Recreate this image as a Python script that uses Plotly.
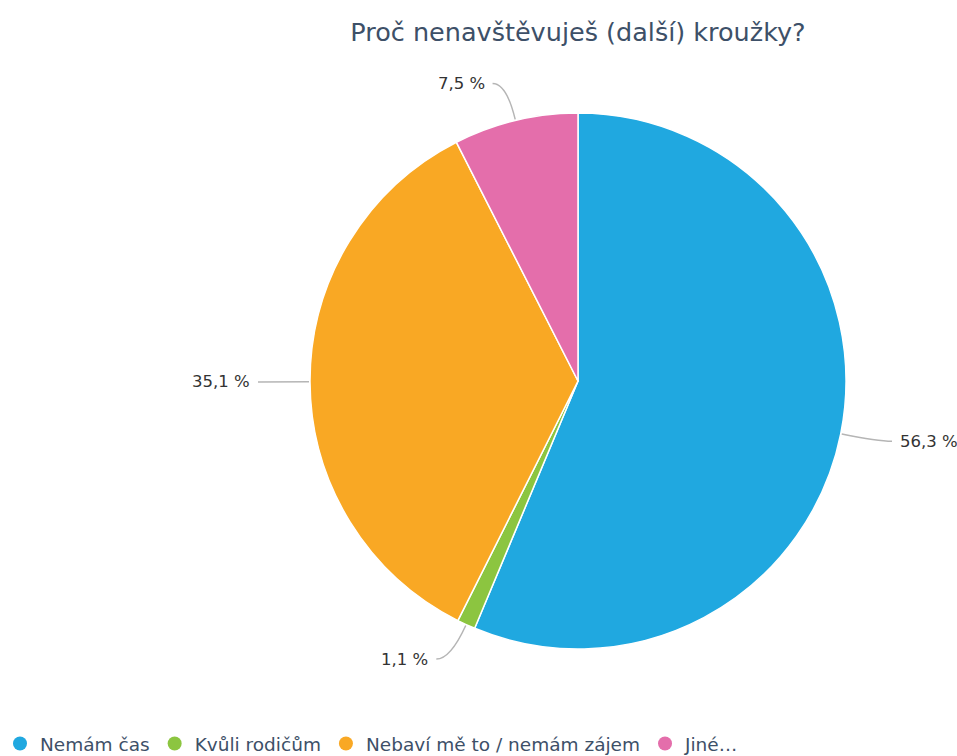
import math

import plotly.graph_objects as go

labels = ["Nemám čas", "Kvůli rodičům", "Nebaví mě to / nemám zájem", "Jiné…"]
values = [56.3, 1.1, 35.1, 7.5]
colors = ["#20a8e0", "#8cc540", "#f9a824", "#e46eab"]
value_text = ["56,3 %", "1,1 %", "35,1 %", "7,5 %"]

W, H = 957, 756
cx, cy, r = 578, 381, 268


def to_paper(px, py):
    return px / W, 1 - py / H


fig = go.Figure()
fig.add_trace(
    go.Pie(
        labels=labels,
        values=values,
        sort=False,
        direction="clockwise",
        rotation=0,
        marker=dict(colors=colors, line=dict(color="white", width=1.5)),
        textinfo="none",
        hoverinfo="label+percent",
        showlegend=False,
        domain=dict(
            x=[(cx - r) / W, (cx + r) / W],
            y=[1 - (cy + r) / H, 1 - (cy - r) / H],
        ),
    )
)

# legend entries with round markers
for name, color in zip(labels, colors):
    fig.add_trace(
        go.Scatter(
            x=[None],
            y=[None],
            mode="markers",
            name=name,
            marker=dict(symbol="circle", size=14, color=color),
        )
    )

# outside labels with leader lines, placed from the slice mid-angles
total = sum(values)
start = 0.0
shapes = []
annotations = []
for v, txt in zip(values, value_text):
    mid = math.radians((start + v / 2) / total * 360)
    start += v
    dx, dy = math.sin(mid), -math.cos(mid)
    side = 1 if dx >= 0 else -1
    p0 = (cx + (r + 1) * dx, cy + (r + 1) * dy)
    p1 = (cx + (r + 38) * dx, cy + (r + 38) * dy)
    p2 = (p1[0] + side * 14, p1[1])
    a, b, c = to_paper(*p0), to_paper(*p1), to_paper(*p2)
    shapes.append(
        dict(
            type="path",
            xref="paper",
            yref="paper",
            path=f"M {a[0]},{a[1]} Q {b[0]},{b[1]} {c[0]},{c[1]}",
            line=dict(color="#b5b5b5", width=1.5),
        )
    )
    t = to_paper(p2[0] + side * 6, p2[1])
    annotations.append(
        dict(
            x=t[0],
            y=t[1],
            xref="paper",
            yref="paper",
            text=txt,
            showarrow=False,
            xanchor="left" if side > 0 else "right",
            yanchor="middle",
            font=dict(family="DejaVu Sans", size=16.5, color="#333333"),
        )
    )

fig.update_layout(
    width=W,
    height=H,
    margin=dict(l=0, r=0, t=0, b=0, autoexpand=False),
    paper_bgcolor="white",
    plot_bgcolor="white",
    font=dict(family="DejaVu Sans", color="#333333"),
    title=dict(
        text="Proč nenavštěvuješ (další) kroužky?",
        x=cx / W,
        xanchor="center",
        y=1 - 32 / H,
        yanchor="middle",
        font=dict(family="DejaVu Sans", size=25.5, color="#3d5068"),
    ),
    xaxis=dict(visible=False),
    yaxis=dict(visible=False),
    legend=dict(
        orientation="h",
        x=0,
        xanchor="left",
        y=1 - 744 / H,
        yanchor="middle",
        font=dict(family="DejaVu Sans", size=18.5, color="#3d5068"),
        itemwidth=30,
        tracegroupgap=0,
    ),
    shapes=shapes,
    annotations=annotations,
)

fig.write_html(
    "out.html",
    config={"displayModeBar": False},
    post_script="document.body.style.margin = '0';",
)
